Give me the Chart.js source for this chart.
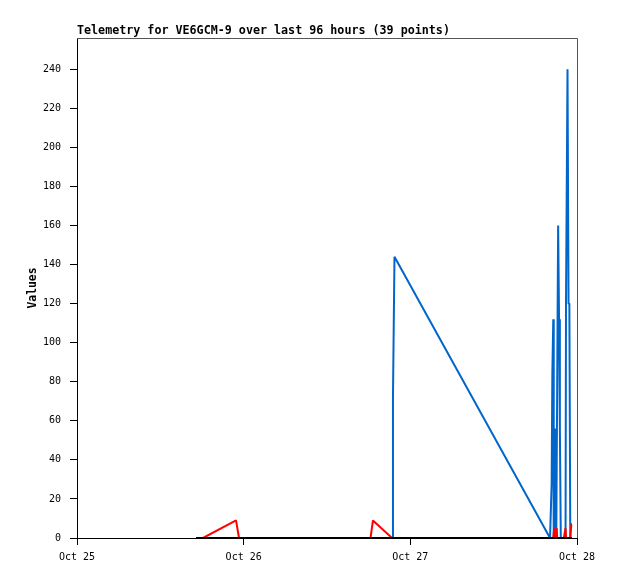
<!DOCTYPE html>
<html>
<head>
<meta charset="utf-8">
<script src="https://cdn.jsdelivr.net/npm/chart.js@4"></script>
<style>
  html, body { margin: 0; padding: 0; background: #fff; }
  canvas { display: block; }
</style>
</head>
<body>
<canvas id="telemetryChart" width="618" height="579"></canvas>
<script>
const chartTitle = 'Telemetry for VE6GCM-9 over last 96 hours (39 points)';
const yAxisLabel = 'Values';
const xTickLabels = ['Oct 25', 'Oct 26', 'Oct 27', 'Oct 28'];

// sample times, "MM-DD HH:MM"
const sampleTimes = [
    '10-25 17:08', '10-25 18:09', '10-25 22:54', '10-25 23:20', '10-26 02:00',
    '10-26 08:07', '10-26 18:16', '10-26 18:37', '10-26 21:22', '10-26 21:30',
    '10-26 21:43', '10-27 20:07', '10-27 20:15', '10-27 20:21', '10-27 20:27',
    '10-27 20:35', '10-27 20:39', '10-27 20:43', '10-27 20:46', '10-27 20:50',
    '10-27 20:54', '10-27 21:01', '10-27 21:05', '10-27 21:09', '10-27 21:17',
    '10-27 21:25', '10-27 21:32', '10-27 21:40', '10-27 21:45', '10-27 22:06',
    '10-27 22:21', '10-27 22:25', '10-27 22:30', '10-27 22:38', '10-27 22:47',
    '10-27 22:54', '10-27 23:02', '10-27 23:11', '10-27 23:17'
];
const channelA = [
    0, 0, 9, 0, 0,
    0, 0, 9, 0, 0,
    0, 0, 0, 0, 0,
    0, 0, 5, 0, 0,
    0, 0, 5, 0, 0,
    0, 0, 0, 0, 0,
    5, 0, 0, 0, 0,
    0, 0, 7, 7
];
const channelB = [
    0, 0, 0, 0, 0,
    0, 0, 0, 0, 72,
    144, 0, 0, 28, 84,
    112, 0, 0, 0, 56,
    0, 0, 0, 80, 160,
    112, 56, 0, 0, 0,
    0, 120, 120, 240, 120,
    120, 0, 0, 0
];
const channelC = sampleTimes.map(() => 0);

function hoursFromStart(s) {
    const day = parseInt(s.slice(3, 5), 10);
    const hh = parseInt(s.slice(6, 8), 10);
    const mm = parseInt(s.slice(9, 11), 10);
    return (day - 25) * 24 + hh + mm / 60;
}
const xs = sampleTimes.map(hoursFromStart);
const toPoints = values => values.map((v, i) => ({ x: xs[i], y: v }));

const monoBold = 'bold 11.7px "DejaVu Sans Mono"';

const framePlugin = {
    id: 'frame',
    afterDraw(chart) {
        const { ctx, chartArea } = chart;
        ctx.save();
        ctx.strokeStyle = '#555555';
        ctx.lineWidth = 1;
        ctx.beginPath();
        ctx.moveTo(chartArea.left, chartArea.top + 0.5);
        ctx.lineTo(chartArea.right + 0.5, chartArea.top + 0.5);
        ctx.lineTo(chartArea.right + 0.5, chartArea.bottom);
        ctx.stroke();
        ctx.fillStyle = '#000';
        ctx.font = monoBold;
        ctx.textBaseline = 'middle';
        ctx.textAlign = 'left';
        ctx.fillText(chartTitle, chartArea.left, 30.5);
        ctx.restore();
    }
};

const line = (values, color, width, order) => ({
    data: toPoints(values),
    borderColor: color,
    borderWidth: width,
    borderJoinStyle: 'bevel',
    pointRadius: 0,
    tension: 0,
    fill: false,
    order: order
});

new Chart(document.getElementById('telemetryChart').getContext('2d'), {
    type: 'line',
    data: {
        datasets: [
            line(channelC, '#000000', 2, 0),
            line(channelA, '#ff0000', 2, 1),
            line(channelB, '#0066cc', 2, 2)
        ]
    },
    options: {
        responsive: false,
        animation: false,
        layout: { padding: { top: 38, right: 41, left: 0, bottom: 0 } },
        plugins: {
            legend: { display: false },
            title: { display: false },
            tooltip: { enabled: false }
        },
        scales: {
            x: {
                type: 'linear',
                min: 0,
                max: 72,
                afterFit: scale => { scale.height = 41; },
                grid: { drawOnChartArea: false, tickLength: 7, color: '#000', tickColor: '#000' },
                border: { color: '#000', width: 1 },
                ticks: {
                    stepSize: 24,
                    padding: 6,
                    maxRotation: 0,
                    color: '#000',
                    font: { family: 'DejaVu Sans Mono', size: 10 },
                    callback: v => xTickLabels[v / 24]
                }
            },
            y: {
                min: 0,
                max: 256,
                afterFit: scale => { scale.width = 77; },
                grid: { drawOnChartArea: false, tickLength: 7, color: '#000', tickColor: '#000' },
                border: { color: '#000', width: 1 },
                ticks: {
                    stepSize: 20,
                    includeBounds: false,
                    padding: 9,
                    color: '#000',
                    font: { family: 'DejaVu Sans Mono', size: 10 }
                },
                title: {
                    display: true,
                    text: yAxisLabel,
                    color: '#000',
                    font: { family: 'DejaVu Sans Mono', size: 11.4, weight: 'bold' },
                    padding: { top: 26, bottom: 0 }
                }
            }
        }
    },
    plugins: [framePlugin]
});
</script>
</body>
</html>
